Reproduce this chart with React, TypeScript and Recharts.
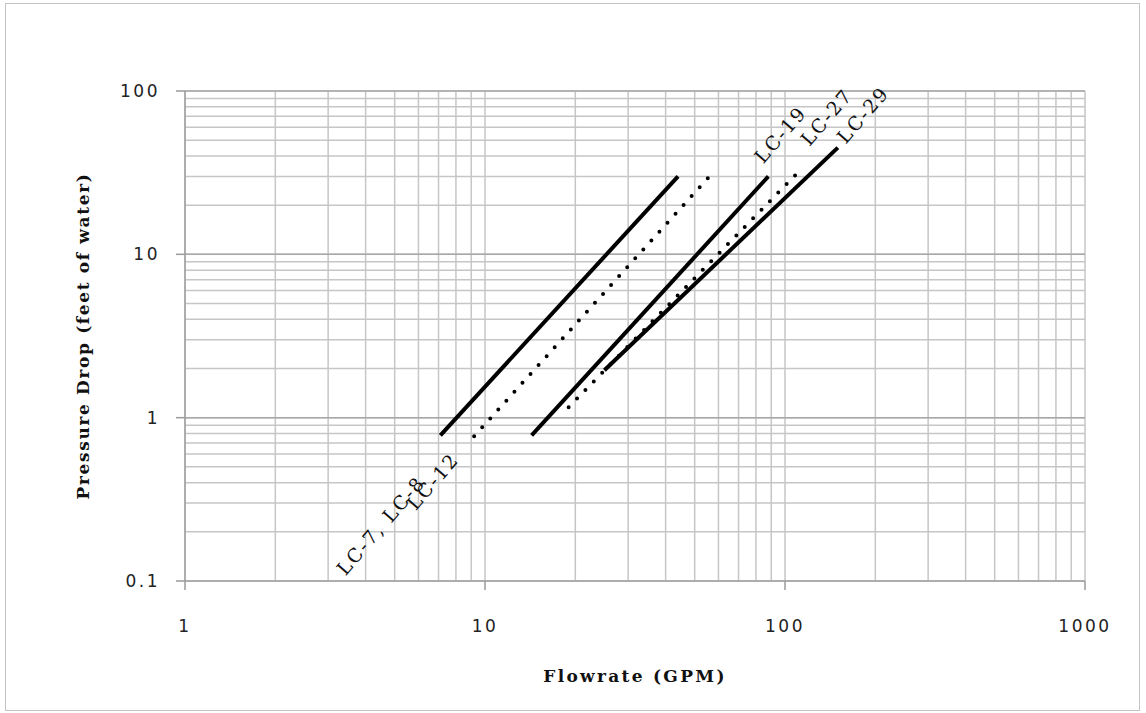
import { LineChart, Line, XAxis, YAxis, CartesianGrid, ReferenceLine } from 'recharts';

// grid ticks (every minor line) and labelled decades
const X_TICKS = [1, 2, 3, 4, 5, 6, 7, 8, 9, 10, 20, 30, 40, 50, 60, 70, 80, 90, 100, 200, 300, 400, 500, 600, 700, 800, 900, 1000];
const Y_TICKS = [0.1, 0.2, 0.3, 0.4, 0.5, 0.6, 0.7, 0.8, 0.9, 1, 2, 3, 4, 5, 6, 7, 8, 9, 10, 20, 30, 40, 50, 60, 70, 80, 90, 100];
const X_LABELS = [1, 10, 100, 1000];
const Y_LABELS = [0.1, 1, 10, 100];

// flowrate (GPM) vs pressure drop (ft of water), line end points
const LC_7_8 = [{ q: 7.1, dp: 0.78 }, { q: 44, dp: 30 }];
const LC_12 = [{ q: 9.2, dp: 0.77 }, { q: 56, dp: 30 }];
const LC_19 = [{ q: 14.3, dp: 0.78 }, { q: 88, dp: 30 }];
const LC_27 = [{ q: 19, dp: 1.16 }, { q: 110, dp: 31.5 }];
const LC_29 = [{ q: 25, dp: 1.95 }, { q: 150, dp: 45 }];

const SANS = '"DejaVu Sans", Verdana, sans-serif';
const SERIF = '"DejaVu Serif", "Liberation Serif", serif';

function XTick({ x, y, payload }: any) {
  if (!X_LABELS.includes(payload.value)) return <g />;
  return (
    <g>
      <line x1={x} x2={x} y1={y} y2={y + 9} stroke="#9a9a9a" strokeWidth={1.5} />
      <text x={x} y={y + 51} textAnchor="middle" fontFamily={SANS} fontSize={17} letterSpacing={2.5} fill="#222">
        {payload.value}
      </text>
    </g>
  );
}

function YTick({ x, y, payload }: any) {
  if (!Y_LABELS.includes(payload.value)) return <g />;
  return (
    <g>
      <line x1={x - 9} x2={x} y1={y} y2={y} stroke="#9a9a9a" strokeWidth={1.5} />
      <text x={x - 25} y={y} dy="0.35em" textAnchor="end" fontFamily={SANS} fontSize={17} letterSpacing={2.5} fill="#222">
        {payload.value}
      </text>
    </g>
  );
}

// rotated series label at the first or last point of a line
const seriesLabel = (text: string, at: 'first' | 'last', dx: number, dy: number) => (props: any) => {
  const { x, y, index } = props;
  const want = at === 'first' ? 0 : 1;
  if (index !== want) return <g />;
  const px = x + dx;
  const py = y + dy;
  return (
    <text
      x={px}
      y={py}
      transform={`rotate(-49 ${px} ${py})`}
      textAnchor={at === 'first' ? 'end' : 'start'}
      fontFamily={SERIF}
      fontSize={19}
      letterSpacing={2}
      fill="#111"
    >
      {text}
    </text>
  );
};

export default function App() {
  return (
    <div style={{ position: 'absolute', left: 0, top: 0, width: 1146, height: 713, background: '#fff' }}>
      <div style={{ position: 'absolute', left: 5, top: 3, width: 1135, height: 708, border: '1.5px solid #c4c4c4', boxSizing: 'border-box' }} />
      <div style={{ position: 'absolute', left: 0, top: 0 }}>
        <LineChart width={1146} height={713} margin={{ top: 91, right: 61, bottom: 72, left: 0 }}>
          <CartesianGrid stroke="#c6c6c6" strokeWidth={1.5} />
          <XAxis
            type="number"
            dataKey="q"
            scale="log"
            domain={[1, 1000]}
            ticks={X_TICKS}
            interval={0}
            allowDataOverflow
            height={60}
            tickSize={0}
            tickMargin={0}
            tick={<XTick />}
            stroke="#a0a0a0"
            strokeWidth={1.5}
            label={() => (
              <text x={635} y={682} textAnchor="middle" fontFamily={SERIF} fontWeight="bold" fontSize={17} letterSpacing={2.3} fill="#111">
                Flowrate (GPM)
              </text>
            )}
          />
          <YAxis
            type="number"
            dataKey="dp"
            scale="log"
            domain={[0.1, 100]}
            ticks={Y_TICKS}
            interval={0}
            allowDataOverflow
            width={185}
            tickSize={0}
            tickMargin={0}
            tick={<YTick />}
            stroke="#a0a0a0"
            strokeWidth={1.5}
            label={() => (
              <text x={89} y={336} transform="rotate(-90 89 336)" textAnchor="middle" fontFamily={SERIF} fontWeight="bold" fontSize={17} letterSpacing={1.65} fill="#111">
                Pressure Drop  (feet of water)
              </text>
            )}
          />
          {Y_LABELS.slice(1).map((v) => (
            <ReferenceLine key={v} y={v} stroke="#a8a8a8" strokeWidth={1.5} />
          ))}
          <Line data={LC_7_8} dataKey="dp" stroke="#000" strokeWidth={4} dot={false} isAnimationActive={false}
            label={seriesLabel('LC-7, LC-8', 'first', -14, 48)} />
          <Line data={LC_12} dataKey="dp" stroke="#000" strokeWidth={4} strokeDasharray="0 12" strokeLinecap="round" dot={false} isAnimationActive={false}
            label={seriesLabel('LC-12', 'first', -14, 24)} />
          <Line data={LC_19} dataKey="dp" stroke="#000" strokeWidth={4} dot={false} isAnimationActive={false}
            label={seriesLabel('LC-19', 'last', -5, -12)} />
          <Line data={LC_27} dataKey="dp" stroke="#000" strokeWidth={4} strokeDasharray="0 12" strokeLinecap="round" dot={false} isAnimationActive={false}
            label={seriesLabel('LC-27', 'last', 12, -26)} />
          <Line data={LC_29} dataKey="dp" stroke="#000" strokeWidth={4} dot={false} isAnimationActive={false}
            label={seriesLabel('LC-29', 'last', 8, -3)} />
        </LineChart>
      </div>
    </div>
  );
}
